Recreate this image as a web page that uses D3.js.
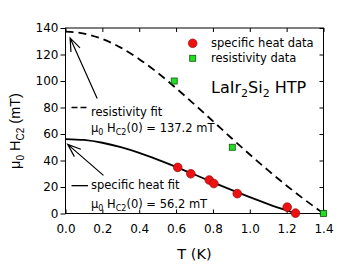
<!DOCTYPE html>
<html><head><meta charset="utf-8">
<script src="https://cdn.jsdelivr.net/npm/d3@7"></script>
<style>
body{margin:0;background:#fff}
svg{display:block}
text{white-space:pre}
</style>
</head><body>
<svg id="chart" width="338" height="264"></svg>
<script>
// ---- data ----
const xTicks = [0, 0.2, 0.4, 0.6, 0.8, 1.0, 1.2, 1.4];
const yTicks = [0, 20, 40, 60, 80, 100, 120, 140];
const heatT = [0.609, 0.68, 0.78, 0.805, 0.932, 1.203, 1.248];
const heatH = [34.8, 30.0, 25.3, 22.6, 15.0, 4.8, 0.3];
const resT = [0.59, 0.905, 1.4];
const resH = [100, 50, 0];
const resFitT = [0, 0.1, 0.2, 0.3, 0.4, 0.5, 0.6, 0.7, 0.8, 0.9, 1.0, 1.1, 1.2, 1.3, 1.4];
const resFitH = [137.2, 135.8, 131.7, 125.2, 116.5, 106.2, 94.6, 82.3, 69.7, 57.0, 44.5, 32.5, 21.0, 10.2, 0];
const heatFitT = [0, 0.1, 0.2, 0.3, 0.4, 0.5, 0.6, 0.7, 0.8, 0.9, 1.0, 1.1, 1.2, 1.25];
const heatFitH = [56.2, 55.5, 53.4, 50.1, 45.8, 40.7, 35.2, 29.4, 23.5, 17.8, 12.3, 7.1, 2.3, 0];
const legendLabels = ["specific heat data", "resistivity data"];
const sampleName = ["LaIr", "2", "Si", "2", " HTP"];

const svg = d3.select("#chart");
const x = d3.scaleLinear().domain([0, 1.4]).range([65.5, 323.5]);
const y = d3.scaleLinear().domain([0, 140]).range([213.5, 28]);
const SANS = "'DejaVu Sans', sans-serif";
const ARIAL = "'Liberation Sans', Arial, sans-serif";

// axes
const gL = svg.append("g").attr("transform", `translate(${x(0)},0)`)
  .call(d3.axisLeft(y).tickValues(yTicks).tickSizeInner(5).tickSizeOuter(0).tickPadding(2).tickFormat(d3.format("d")));
const gB = svg.append("g").attr("transform", `translate(0,${y(0)})`)
  .call(d3.axisBottom(x).tickValues(xTicks).tickSizeInner(-4).tickSizeOuter(0).tickPadding(11).tickFormat(d3.format(".1f")));
const gT = svg.append("g").attr("transform", `translate(0,${y(140)})`)
  .call(d3.axisTop(x).tickValues(xTicks).tickSizeInner(-4).tickSizeOuter(0).tickFormat(""));
const gR = svg.append("g").attr("transform", `translate(${x(1.4)},0)`)
  .call(d3.axisRight(y).tickValues(yTicks).tickSizeInner(-4).tickSizeOuter(0).tickFormat(""));
[gL, gB, gT, gR].forEach(g => {
  g.select(".domain").remove();
  g.selectAll("line").attr("stroke", "#000");
  g.selectAll("text").attr("font-family", SANS).attr("font-size", 12).attr("fill", "#000");
});
svg.append("rect").attr("x", x(0)).attr("y", y(140))
  .attr("width", x(1.4) - x(0)).attr("height", y(0) - y(140))
  .attr("fill", "none").attr("stroke", "#000").attr("stroke-width", 1);

// fit curves
const line = d3.line().curve(d3.curveMonotoneX);
svg.append("path")
  .attr("d", line(resFitT.map((t, i) => [x(t), y(resFitH[i])])))
  .attr("fill", "none").attr("stroke", "#000").attr("stroke-width", 1.8)
  .attr("stroke-dasharray", "8,5");
svg.append("path")
  .attr("d", line(heatFitT.map((t, i) => [x(t), y(heatFitH[i])])))
  .attr("fill", "none").attr("stroke", "#000").attr("stroke-width", 1.8);

// data points
svg.append("g").selectAll("circle").data(heatT).join("circle")
  .attr("cx", (d) => x(d)).attr("cy", (d, i) => y(heatH[i])).attr("r", 4.3)
  .attr("fill", "#ee1111").attr("stroke", "#a01010").attr("stroke-width", 0.8);
svg.append("g").selectAll("rect").data(resT).join("rect")
  .attr("x", (d) => x(d) - 3).attr("y", (d, i) => y(resH[i]) - 3)
  .attr("width", 6).attr("height", 6)
  .attr("fill", "#22dd22").attr("stroke", "#115511").attr("stroke-width", 0.8);

// legend
svg.append("circle").attr("cx", 192.7).attr("cy", 43.3).attr("r", 4.3)
  .attr("fill", "#ee1111").attr("stroke", "#a01010").attr("stroke-width", 0.8);
svg.append("rect").attr("x", 189.7).attr("y", 55.3).attr("width", 6).attr("height", 6)
  .attr("fill", "#22dd22").attr("stroke", "#115511").attr("stroke-width", 0.8);
legendLabels.forEach((l, i) => {
  svg.append("text").attr("x", 211).attr("y", 47 + i * 15).attr("font-family", SANS)
    .attr("font-size", 11.5).attr("fill", "#000").text(l);
});

// rich text helper
function rich(xp, yp, segs, size, subSize, shift, family) {
  const t = svg.append("text").attr("x", xp).attr("y", yp)
    .attr("font-family", family || SANS).attr("font-size", size).attr("fill", "#000");
  let down = false;
  segs.forEach((s, i) => {
    const sub = i % 2 === 1;
    const ts = t.append("tspan").text(s);
    if (sub) { ts.attr("font-size", subSize).attr("dy", shift); down = true; }
    else if (down) { ts.attr("dy", -shift); down = false; }
  });
  return t;
}

rich(211, 93, sampleName, 16, 11, 4);

// annotations
svg.append("text").attr("x", 91).attr("y", 115.5).attr("font-family", SANS)
  .attr("font-size", 11.5).attr("fill", "#000").text("resistivity fit");
rich(91, 132, ["μ", "0", " H", "C2", "(0) = 137.2 mT"], 11.5, 8, 3);
svg.append("text").attr("x", 91).attr("y", 188.5).attr("font-family", SANS)
  .attr("font-size", 11.5).attr("fill", "#000").text("specific heat fit");
rich(91, 208, ["μ", "0", " H", "C2", "(0) = 56.2 mT"], 11.5, 8, 3);

// annotation legend strokes
svg.append("line").attr("x1", 71.5).attr("x2", 87.5).attr("y1", y(80)).attr("y2", y(80))
  .attr("stroke", "#000").attr("stroke-width", 1.3).attr("stroke-dasharray", "6,3");
svg.append("line").attr("x1", 71.5).attr("x2", 88).attr("y1", y(21)).attr("y2", y(21))
  .attr("stroke", "#000").attr("stroke-width", 1.3);

// arrows
function arrow(from, to) {
  const x1 = x(from[0]), y1 = y(from[1]), x2 = x(to[0]), y2 = y(to[1]);
  const a = Math.atan2(y1 - y2, x1 - x2), L = 14, w = 0.36;
  svg.append("path")
    .attr("d", `M${x1},${y1}L${x2},${y2}M${x2 + L * Math.cos(a - w)},${y2 + L * Math.sin(a - w)}L${x2},${y2}L${x2 + L * Math.cos(a + w)},${y2 + L * Math.sin(a + w)}`)
    .attr("fill", "none").attr("stroke", "#000").attr("stroke-width", 1.2);
}
arrow([0.172, 86.8], [0.025, 132.5]);
arrow([0.206, 28.8], [0.012, 52.2]);

// axis titles
svg.append("text").attr("x", 194.5).attr("y", 258.5).attr("text-anchor", "middle")
  .attr("font-family", SANS).attr("font-size", 14.5).attr("fill", "#000").text("T (K)");
const yl = rich(0, 0, ["μ", "0", " H", "C2", " (mT)"], 14.5, 10, 3.5, ARIAL)
  .attr("text-anchor", "middle")
  .attr("transform", "translate(20,131) rotate(-90)");
</script>
</body></html>
